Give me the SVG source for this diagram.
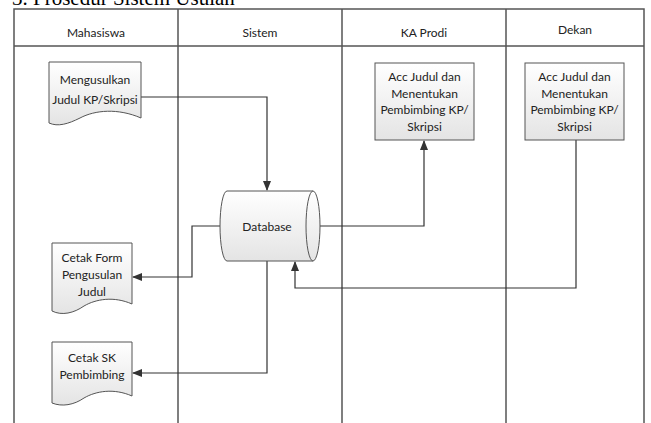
<svg xmlns="http://www.w3.org/2000/svg" width="651" height="423" viewBox="0 0 651 423">
<defs>
<linearGradient id="g" x1="0" y1="0" x2="0" y2="1"><stop offset="0" stop-color="#ffffff"/><stop offset="1" stop-color="#e4e4e4"/></linearGradient>
<marker id="ah" markerWidth="10" markerHeight="8" refX="9" refY="4" orient="auto" markerUnits="userSpaceOnUse"><path d="M0,0 L10,4 L0,8 Z" fill="#333"/></marker>
</defs>
<style>
.lane{stroke:#555;stroke-width:1.5;fill:none}
.t{font-family:Lato,"Open Sans","Liberation Sans",sans-serif;font-size:12px;fill:#222;text-anchor:middle}
.shape{fill:url(#g);stroke:#555;stroke-width:1}
.con{stroke:#333;stroke-width:1.2;fill:none}
.title{font-family:"Liberation Serif",serif;font-size:21px;fill:#000}
</style>
<rect width="651" height="423" fill="#fff"/>
<text class="title" x="12" y="5">3.  Prosedur Sistem Usulan</text>
<g id="lanes">
<path class="lane" d="M14,423 V9 H644 V423 M178,9 V423 M342,9 V423 M506,9 V423 M14,46 H644"/>
<text class="t" x="96" y="37">Mahasiswa</text>
<text class="t" x="260" y="37">Sistem</text>
<text class="t" x="424" y="37">KA Prodi</text>
<text class="t" x="575" y="34">Dekan</text>
</g>
<g id="connectors">
<path class="con" d="M141,97 H267 V190" marker-end="url(#ah)"/>
<path class="con" d="M307,226 H424 V141" marker-end="url(#ah)"/>
<path class="con" d="M576,140 V288 H295 V262" marker-end="url(#ah)"/>
<path class="con" d="M220,226 H192 V277 H133" marker-end="url(#ah)"/>
<path class="con" d="M267,261 V373 H133" marker-end="url(#ah)"/>
</g>
<g id="n_mengusulkan">
<path class="shape" d="M49,62 H141 V118 C118,108 95,110 80,118 C68,124 58,127 49,123 Z"/>
<text class="t" x="95" y="84">Mengusulkan</text>
<text class="t" x="95" y="104">Judul KP/Skripsi</text>
</g>
<g id="n_database">
<path class="shape" d="M227,191 H313 A7,35 0 0 1 313,261 H227 A7,35 0 0 1 227,191 Z"/>
<path class="shape" d="M313,191 A7,35 0 0 0 313,261"/>
<text class="t" x="267" y="231">Database</text>
</g>
<g id="n_kaprodi">
<rect class="shape" x="375" y="63" width="99" height="77"/>
<text class="t" x="424.500" y="81">Acc Judul dan</text>
<text class="t" x="424.500" y="97.500">Menentukan</text>
<text class="t" x="424.500" y="114">Pembimbing KP/</text>
<text class="t" x="424.500" y="130.500">Skripsi</text>
</g>
<g id="n_dekan">
<rect class="shape" x="525" y="63" width="99" height="77"/>
<text class="t" x="574.500" y="81">Acc Judul dan</text>
<text class="t" x="574.500" y="97.500">Menentukan</text>
<text class="t" x="574.500" y="114">Pembimbing KP/</text>
<text class="t" x="574.500" y="130.500">Skripsi</text>
</g>
<g id="n_cetakform">
<path class="shape" d="M52,243 H132 V304 C114,296 96,299 84,306 C74,313 62,316 52,311 Z"/>
<text class="t" x="92" y="262">Cetak Form</text>
<text class="t" x="92" y="279">Pengusulan</text>
<text class="t" x="92" y="296">Judul</text>
</g>
<g id="n_cetaksk">
<path class="shape" d="M52,342 H132 V396 C114,388 96,391 84,398 C74,405 62,407 52,403 Z"/>
<text class="t" x="92" y="362">Cetak SK</text>
<text class="t" x="92" y="379">Pembimbing</text>
</g>
</svg>
